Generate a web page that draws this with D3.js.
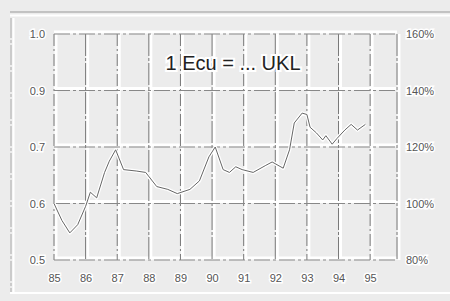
<!DOCTYPE html>
<html>
<head>
<meta charset="utf-8">
<script src="https://cdn.jsdelivr.net/npm/d3@7"></script>
<style>
  body { margin: 0; background: #ececec; }
  svg { display: block; }
  .axis text { font-family: "Liberation Sans", Arial, sans-serif; font-size: 11px; fill: #555; }
  .axis path, .axis line { display: none; }
</style>
</head>
<body>
<svg id="chart" width="450" height="301"></svg>
<script>
// years shown on the x axis
let years = [85, 86, 87, 88, 89, 90, 91, 92, 93, 94, 95];
let yearLabels = ["85", "86", "87", "88", "89", "90", "91", "92", "93", "94", "95"];

// right axis (percent) and the odd left labels that share the same rows
let pctTicks = [160, 140, 120, 100, 80];
let pctLabels = ["160%", "140%", "120%", "100%", "80%"];
let leftLabels = ["1.0", "0.9", "0.7", "0.6", "0.5"];

// series, in percent of the right axis
let seriesYear = [85.0, 85.25, 85.5, 85.75, 86.0, 86.15, 86.35, 86.6, 86.75, 86.95,
    87.2, 87.6, 87.9, 88.25, 88.6, 88.9, 89.3, 89.6, 89.9, 90.1,
    90.35, 90.55, 90.75, 90.95, 91.3, 91.7, 91.9, 92.25, 92.45, 92.6,
    92.85, 93.0, 93.1, 93.3, 93.5, 93.6, 93.8, 93.95, 94.2, 94.4, 94.6, 94.85];
let seriesPct = [100, 94, 89.6, 92.5, 99, 104, 102, 111, 115, 119,
    112, 111.5, 111, 106, 105, 103.5, 105, 108, 116.5, 120,
    112, 111, 113, 112, 111, 113.5, 114.7, 112.5, 119, 128.5,
    132, 131.5, 127, 125, 122.5, 124, 121, 123, 126, 128, 126, 128];

let title = "1 Ecu = ... UKL";

let svg = d3.select("#chart");

let x = d3.scaleLinear().domain([85, 95.85]).range([54, 397]);
let y = d3.scaleLinear().domain([80, 160]).range([260, 34]);

// outer frame
svg.append("line").attr("x1", 10).attr("x2", 450).attr("y1", 12).attr("y2", 12)
    .attr("stroke", "#999").attr("stroke-width", 1);
svg.append("line").attr("x1", 10).attr("x2", 450).attr("y1", 15.5).attr("y2", 15.5)
    .attr("stroke", "#fff").attr("stroke-width", 2);
svg.append("line").attr("x1", 11).attr("x2", 11).attr("y1", 18).attr("y2", 292)
    .attr("stroke", "#aaa").attr("stroke-width", 1).attr("stroke-dasharray", "20,2,3,2");
svg.append("line").attr("x1", 13.5).attr("x2", 13.5).attr("y1", 18).attr("y2", 292)
    .attr("stroke", "#fff").attr("stroke-width", 2);
svg.append("line").attr("x1", 10).attr("x2", 450).attr("y1", 293).attr("y2", 293)
    .attr("stroke", "#fff").attr("stroke-width", 2);

// gridlines: white halo then dashed dark line
let vx = years.concat([95.85]);
let grid = svg.append("g");
grid.selectAll(".vh").data(vx).join("line")
    .attr("x1", d => x(d) + 2).attr("x2", d => x(d) + 2)
    .attr("y1", y(160)).attr("y2", y(80))
    .attr("stroke", "#fff").attr("stroke-width", 3);
grid.selectAll(".hh").data(pctTicks).join("line")
    .attr("x1", x(85)).attr("x2", x(95.85))
    .attr("y1", d => y(d) - 2).attr("y2", d => y(d) - 2)
    .attr("stroke", "#fff").attr("stroke-width", 3);
grid.selectAll(".vd").data(vx).join("line")
    .attr("x1", d => x(d)).attr("x2", d => x(d))
    .attr("y1", y(160)).attr("y2", y(80))
    .attr("stroke", "#777").attr("stroke-width", 1)
    .attr("stroke-dasharray", (d, i) => i % 2 ? "22,2,3,2" : "12,3,2,3");
grid.selectAll(".hd").data(pctTicks).join("line")
    .attr("x1", x(85)).attr("x2", x(95.85))
    .attr("y1", d => y(d)).attr("y2", d => y(d))
    .attr("stroke", "#888").attr("stroke-width", 1)
    .attr("stroke-dasharray", "16,3,3,3");

// axes
let leftAxis = d3.axisLeft(y).tickValues(pctTicks).tickSize(0).tickPadding(0)
    .tickFormat((d, i) => leftLabels[i]);
svg.append("g").attr("class", "axis").attr("transform", "translate(45,0)").call(leftAxis);

let rightAxis = d3.axisRight(y).tickValues(pctTicks).tickSize(0).tickPadding(0)
    .tickFormat((d, i) => pctLabels[i]);
svg.append("g").attr("class", "axis").attr("transform", "translate(406,0)").call(rightAxis);

let xAxis = d3.axisBottom(x).tickValues(years).tickSize(0).tickPadding(0)
    .tickFormat((d, i) => yearLabels[i]);
svg.append("g").attr("class", "axis").attr("transform", "translate(0,274)").call(xAxis);

svg.selectAll(".axis text")
    .attr("stroke", "#fff").attr("stroke-width", 3).attr("paint-order", "stroke");

// data line
let pts = seriesYear.map((d, i) => [d, seriesPct[i]]);
let line = d3.line().x(d => x(d[0])).y(d => y(d[1]));
svg.append("path").attr("d", line(pts))
    .attr("fill", "none").attr("stroke", "#fff").attr("stroke-width", 3.5)
    .attr("stroke-linejoin", "round");
svg.append("path").attr("d", line(pts))
    .attr("fill", "none").attr("stroke", "#666").attr("stroke-width", 1)
    .attr("stroke-linejoin", "round");

// title
svg.append("text").attr("x", 233).attr("y", 70)
    .attr("text-anchor", "middle")
    .attr("font-family", "Liberation Sans, Arial, sans-serif")
    .attr("font-size", 20)
    .attr("fill", "#222")
    .attr("stroke", "#fff").attr("stroke-width", 4).attr("paint-order", "stroke")
    .text(title);
</script>
</body>
</html>
